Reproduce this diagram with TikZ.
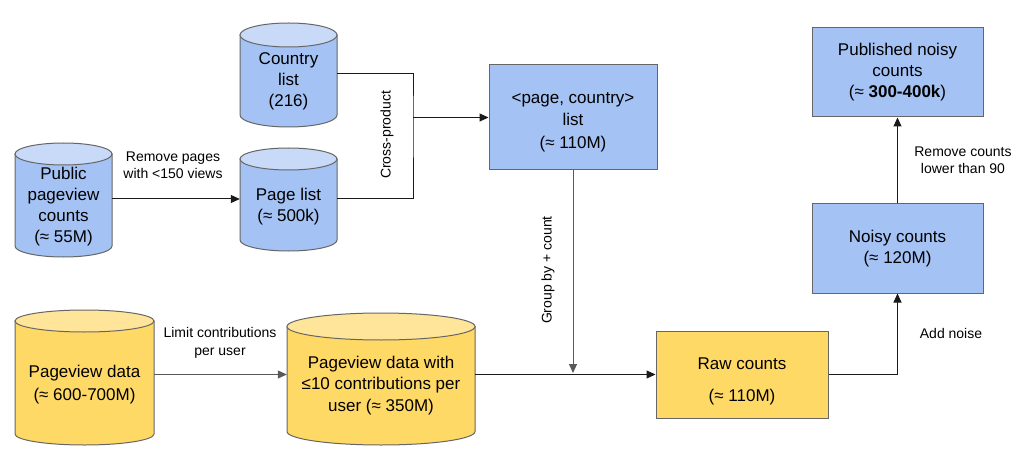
\documentclass[tikz,border=0pt]{standalone}
\usepackage{fontspec}
\setmainfont{Liberation Sans}
\usetikzlibrary{arrows.meta}
\definecolor{cblue}{HTML}{A4C2F4}
\definecolor{cbluetop}{HTML}{C9DAF8}
\definecolor{cyel}{HTML}{FFD966}
\definecolor{cyeltop}{HTML}{FFE599}
\definecolor{cborder}{HTML}{666666}
\definecolor{cline}{HTML}{1A1A1A}
\definecolor{cgrey}{HTML}{595959}
\tikzset{
  bluebody/.style={fill=cblue,draw=cborder,line width=1pt},
  bluetop/.style={fill=cbluetop,draw=cborder,line width=1pt},
  yelbody/.style={fill=cyel,draw=cborder,line width=1pt},
  yeltop/.style={fill=cyeltop,draw=cborder,line width=1pt},
  cyltext/.style={align=center,inner sep=0pt,font=\fontsize{17}{21}\selectfont},
  box/.style={draw=cborder,line width=1pt,inner sep=0pt,align=center,font=\fontsize{17}{21}\selectfont},
  boxtext/.style={align=center,inner sep=0pt,font=\fontsize{17}{21}\selectfont},
  lbl/.style={align=center,inner sep=0pt,font=\fontsize{14}{17}\selectfont},
  conn/.style={draw=cline,line width=1pt},
  arr/.style={draw=cline,line width=1pt,-{Triangle[length=9pt,width=8pt]}},
  greyarr/.style={draw=cgrey,line width=1pt,-{Triangle[length=9pt,width=8pt]},cgrey},
}
% name, cx, top-center y, bottom-center y, half width, ry, style prefix, text y, text
\newcommand{\dbcyl}[9]{%
  \path[#7body] ({#2-#5},#3) -- ({#2-#5},#4) arc[start angle=180,end angle=360,x radius=#5pt,y radius=#6pt] -- ({#2+#5},#3) -- cycle;
  \path[#7top] (#2,#3) ellipse[x radius=#5pt,y radius=#6pt];
  \node[cyltext,minimum width=2*#5pt] (#1) at (#2,#8) {#9};
}
\begin{document}
\begin{tikzpicture}[x=1pt,y=-1pt]
\useasboundingbox (0,0) rectangle (1024,462);
\fill[white] (0,0) rectangle (1024,462);

% cylinders
\dbcyl{pub}{63.5}{154}{246}{48.5}{11}{blue}{207}{Public\\pageview\\counts\\(≈ 55M)}
\dbcyl{cl}{288.5}{35}{115}{48.5}{12}{blue}{81}{Country\\list\\(216)}
\dbcyl{pl}{288.5}{159}{240}{48.5}{11}{blue}{207}{Page list\\(≈ 500k)}
\dbcyl{pw}{84.5}{321}{434}{69.5}{11}{yel}{384.5}{Pageview data\\[2pt](≈ 600-700M)}
\dbcyl{pw2}{381}{326.5}{431.5}{94}{13.5}{yel}{385.5}{Pageview data with\\[0.5pt]≤10 contributions per\\[0.5pt]user (≈ 350M)}

% boxes
\node[box,fill=cblue,minimum width=168pt,minimum height=105pt] (pc) at (573,117.5) {};
\node[boxtext] (pctxt) at (573,122) {<page, country>\\[1.5pt]list\\[1.5pt](≈ 110M)};
\node[box,fill=cyel,minimum width=172pt,minimum height=87pt] (raw) at (742,374.5) {};
\node[boxtext] (rawtxt) at (742,381) {Raw counts\\[11pt](≈ 110M)};
\node[box,fill=cblue,minimum width=171pt,minimum height=89pt] (noisy) at (897.5,248.5) {Noisy counts\\(≈ 120M)};
\node[box,fill=cblue,minimum width=171pt,minimum height=89pt] (pubc) at (897.5,72.5) {Published noisy\\counts\\(≈ \textbf{300-400k})};

% connectors
\draw[arr] ([yshift=8pt]pub.east) -- ([yshift=8pt]pl.west);
\coordinate (cpj) at (413,117.5);
\draw[conn] ([yshift=7pt]cl.east) -| (cpj) |- ([yshift=8pt]pl.east);
\draw[arr] (cpj) -- (pc.west);
\coordinate (gbj) at (573,373);
\draw[greyarr] (pc.south) -- (gbj);
\draw[greyarr] (pw.east |- raw.west) -- (pw2.west |- raw.west);
\draw[arr] (pw2.east |- raw.west) -- (raw.west);
\draw[arr] (raw.east) -| (noisy.south);
\draw[arr] (noisy.north) -- (pubc.south);

% labels
\node[lbl] (l1) at (173,165) {Remove pages\\with <150 views};
\node[lbl,rotate=90] (l2) at (387,135) {Cross-product};
\node[lbl] (l3) at (220,342.5) {Limit contributions\\[1pt]per user};
\node[lbl,rotate=90] (l4) at (548,270) {Group by + count};
\node[lbl] (l5) at (951,333) {Add noise};
\node[lbl] (l6) at (963,160.5) {Remove counts\\lower than 90};
\end{tikzpicture}
\end{document}
